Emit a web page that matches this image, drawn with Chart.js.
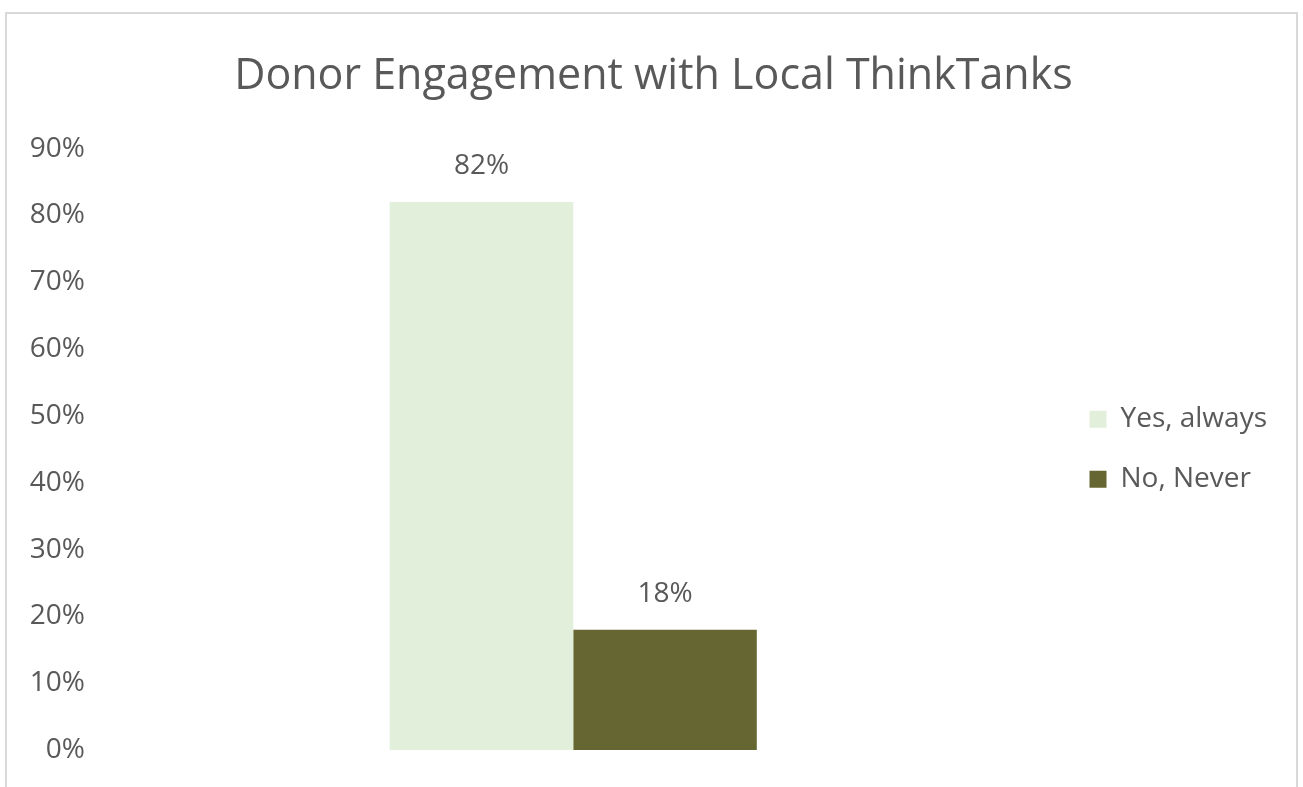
<!DOCTYPE html>
<html>
<head>
<meta charset="utf-8">
<title>Donor Engagement with Local ThinkTanks</title>
<script src="https://cdn.jsdelivr.net/npm/chart.js@4"></script>
<style>
  html, body { margin: 0; padding: 0; background: #fff; overflow: hidden; }
  #frame {
    position: absolute; left: 5px; top: 12px;
    width: 1293px; height: 800px;
    border: 2px solid #d9d9d9; box-sizing: border-box;
  }
  #wrap { position: absolute; left: 0; top: 0; width: 1291px; height: 773px; }
</style>
</head>
<body>
<div id="frame"><div id="wrap"><canvas id="bar"></canvas></div></div>
<script>
// survey answers
var categories = ["Donor Engagement"];
var seriesNames = ["Yes, always", "No, Never"];
var yesAlways = [82];
var noNever = [18];
var tickValues = [0, 10, 20, 30, 40, 50, 60, 70, 80, 90];

var textColor = "#595959";
var fontFamily = "'Open Sans', 'Segoe UI', sans-serif";

// prints the value above each bar
var valueLabels = {
  id: "valueLabels",
  afterDatasetsDraw: function (chart) {
    var ctx = chart.ctx;
    ctx.save();
    ctx.font = "28px " + fontFamily;
    ctx.fillStyle = textColor;
    ctx.textAlign = "center";
    ctx.textBaseline = "middle";
    chart.data.datasets.forEach(function (ds, i) {
      chart.getDatasetMeta(i).data.forEach(function (bar, j) {
        ctx.fillText(ds.data[j] + "%", bar.x, bar.y - 36);
      });
    });
    ctx.restore();
  }
};

var ctx = document.getElementById("bar");
var myBarChart = new Chart(ctx, {
  type: "bar",
  data: {
    labels: categories,
    datasets: [
      {
        label: seriesNames[0],
        data: yesAlways,
        backgroundColor: "#e2efda",
        borderWidth: 0
      },
      {
        label: seriesNames[1],
        data: noNever,
        backgroundColor: "#666633",
        borderWidth: 0
      }
    ]
  },
  plugins: [valueLabels],
  options: {
    responsive: true,
    maintainAspectRatio: false,
    animation: false,
    datasets: {
      bar: { categoryPercentage: 0.379, barPercentage: 1 }
    },
    layout: { padding: { left: 23, right: 21, top: 0, bottom: 37 } },
    plugins: {
      tooltip: { enabled: false },
      title: {
        display: true,
        text: "Donor Engagement with Local ThinkTanks",
        color: textColor,
        font: { family: fontFamily, size: 43, weight: "normal" },
        padding: { top: 37, bottom: 46 }
      },
      legend: {
        position: "right",
        align: "center",
        fullSize: false,
        labels: {
          color: textColor,
          font: { family: fontFamily, size: 28 },
          boxWidth: 17,
          boxHeight: 17,
          padding: 32
        }
      }
    },
    scales: {
      x: {
        grid: { display: false, drawTicks: false },
        border: { display: false },
        ticks: { display: false }
      },
      y: {
        min: 0,
        max: 90,
        afterBuildTicks: function (scale) {
          scale.ticks = tickValues.map(function (v) { return { value: v }; });
        },
        afterFit: function (scale) { scale.width = 59; },
        grid: { display: false, drawTicks: false },
        border: { display: false },
        ticks: {
          color: textColor,
          font: { family: fontFamily, size: 28 },
          padding: 4,
          callback: function (v) { return v + "%"; }
        }
      }
    }
  }
});
</script>
</body>
</html>
